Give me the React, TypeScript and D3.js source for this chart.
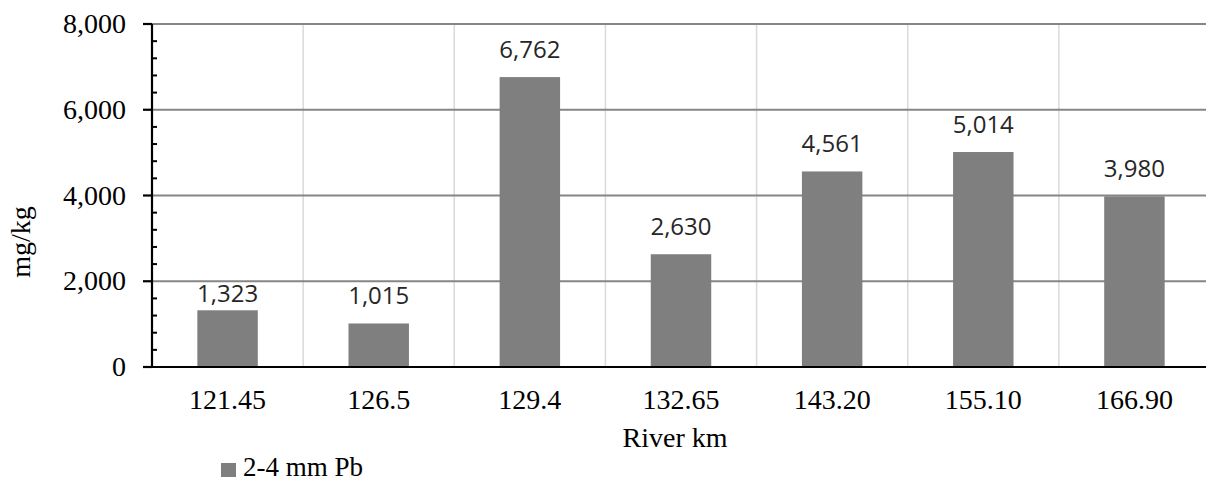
import React from "react";
import * as d3 from "d3";

const categories = ["121.45", "126.5", "129.4", "132.65", "143.20", "155.10", "166.90"];
const values = [1323, 1015, 6762, 2630, 4561, 5014, 3980];
const majorTicks = [0, 2000, 4000, 6000, 8000];
const seriesName = "2-4 mm Pb";
const xTitle = "River km";
const yTitle = "mg/kg";

const W = 1206;
const H = 483;
const left = 152;
const right = 1210;
const top = 24;
const bottom = 367;

export default function App() {
  const x = d3.scaleBand<string>().domain(categories).range([left, right]).paddingInner(0).paddingOuter(0);
  const y = d3.scaleLinear().domain([0, 8000]).range([bottom, top]);
  const minorTicks = d3.range(0, 8001, 400).filter((v) => v % 2000 !== 0);
  const bw = x.bandwidth() * 0.4;
  const serif = "'Liberation Serif', 'Times New Roman', serif";
  const sans = "'Open Sans', 'Noto Sans', sans-serif";
  const fmt = d3.format(",");

  // label baseline: 19px above bar, unless the label would cross a gridline, then tuck closer
  const labelY = (v: number) => {
    const yb = y(v) - 19;
    const topEdge = yb - 18;
    const crosses = majorTicks.some((t) => t > v && y(t) > topEdge && y(t) < yb);
    return crosses ? y(v) - 8 : yb;
  };

  return (
    <svg width={W} height={H} style={{ position: "absolute", left: 0, top: 0 }}>
      <rect x={0} y={0} width={W} height={H} fill="#fff" />
      {categories.slice(1).map((c) => (
        <line key={"vg" + c} x1={x(c)!} x2={x(c)!} y1={top} y2={bottom} stroke="#d9d9d9" strokeWidth={1.5} />
      ))}
      {majorTicks.filter((t) => t > 0).map((t) => (
        <line key={"hg" + t} x1={left} x2={right} y1={y(t)} y2={y(t)} stroke="#868686" strokeWidth={1.8} />
      ))}
      {categories.map((c, i) => (
        <rect
          key={"b" + c}
          x={x(c)! + (x.bandwidth() - bw) / 2}
          y={y(values[i])}
          width={bw}
          height={bottom - y(values[i])}
          fill="#7f7f7f"
        />
      ))}
      {categories.map((c, i) => (
        <text
          key={"l" + c}
          x={x(c)! + x.bandwidth() / 2}
          y={labelY(values[i])}
          textAnchor="middle"
          fontFamily={sans}
          fontSize={24}
          fill="#262626"
        >
          {fmt(values[i])}
        </text>
      ))}
      <line x1={left} x2={left} y1={top} y2={bottom} stroke="#000" strokeWidth={2.2} />
      <line x1={143} x2={right} y1={bottom} y2={bottom} stroke="#000" strokeWidth={2.2} />
      {majorTicks.map((t) => (
        <line key={"mt" + t} x1={143} x2={left} y1={y(t)} y2={y(t)} stroke="#000" strokeWidth={2.2} />
      ))}
      {minorTicks.map((t) => (
        <line key={"nt" + t} x1={left} x2={157} y1={y(t)} y2={y(t)} stroke="#000" strokeWidth={2} />
      ))}
      {majorTicks.map((t) => (
        <text key={"yl" + t} x={126} y={y(t) + 9} textAnchor="end" fontFamily={serif} fontSize={28} fill="#000">
          {fmt(t)}
        </text>
      ))}
      {categories.map((c) => (
        <text key={"xl" + c} x={x(c)! + x.bandwidth() / 2} y={409} textAnchor="middle" fontFamily={serif} fontSize={28} fill="#000">
          {c}
        </text>
      ))}
      <text x={675} y={447} textAnchor="middle" fontFamily={serif} fontSize={28} fill="#000">
        {xTitle}
      </text>
      <text
        transform={`translate(30, ${242}) rotate(-90)`}
        textAnchor="middle"
        fontFamily={serif}
        fontSize={28}
        fill="#000"
      >
        {yTitle}
      </text>
      <rect x={221} y={463} width={15} height={14} fill="#7f7f7f" />
      <text x={243} y={476} fontFamily={serif} fontSize={27} fill="#000">
        {seriesName}
      </text>
    </svg>
  );
}
